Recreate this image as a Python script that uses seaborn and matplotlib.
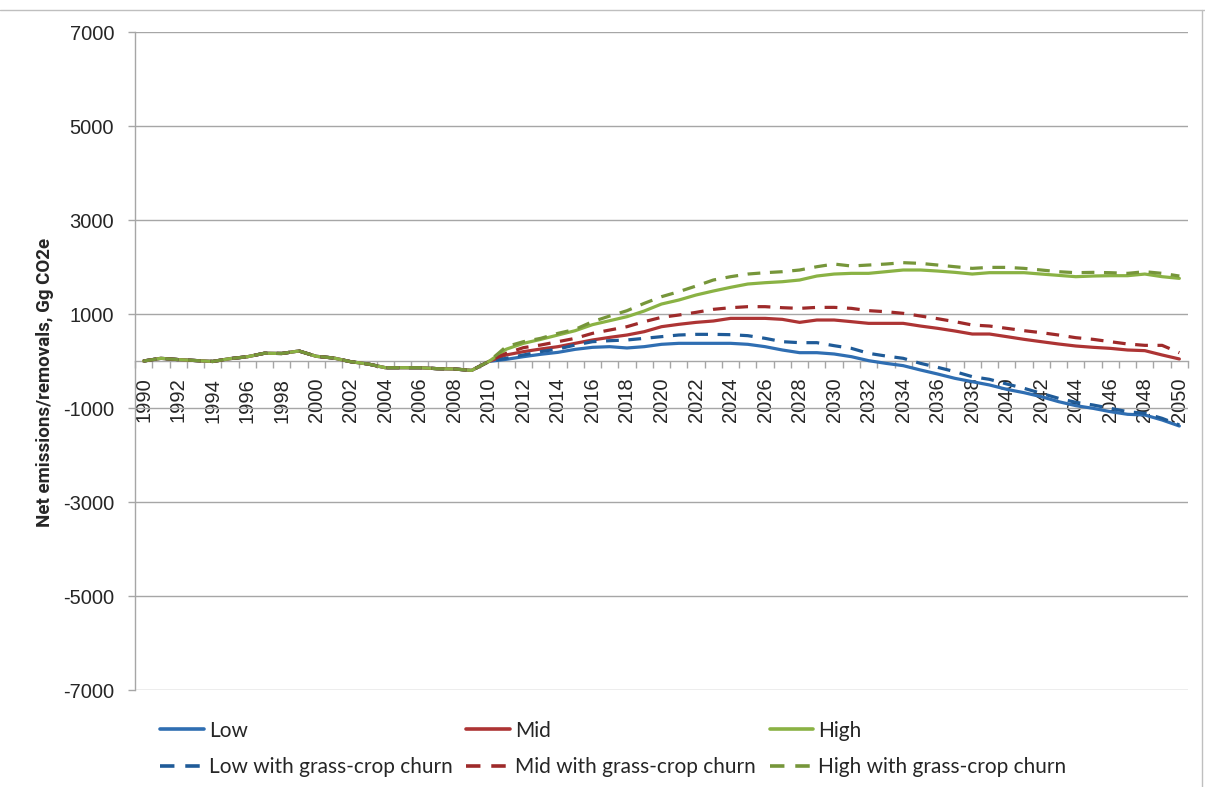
# Net emissions/removals projections, recreated with seaborn.

import numpy as np
import pandas as pd
import matplotlib
matplotlib.use("Agg")
import matplotlib.pyplot as plt
import seaborn as sns
from matplotlib.ticker import FixedLocator, MultipleLocator
from matplotlib.lines import Line2D

# Data (Gg CO2e)
years = list(range(1990, 2051))

# 1990-2010 is shared by all scenarios
history = [0, 57, 30, 10, -10, 50, 90, 165, 160, 213, 100, 64, -15, -64,
           -142, -142, -142, -163, -170, -200, -10]

# 2011-2050
low_proj = [35, 92, 142, 184, 248, 291, 305, 277, 305, 355, 376, 376, 376, 376,
            355, 305, 234, 177, 177, 149, 92, 7, -50, -99, -191, -277, -369, -440,
            -510, -603, -674, -759, -865, -950, -1007, -1078, -1134, -1149, -1255, -1383]
mid_proj = [128, 199, 255, 305, 376, 447, 503, 553, 624, 730, 780, 822, 851, 907,
            907, 907, 886, 822, 872, 872, 837, 801, 801, 801, 744, 695, 638, 574,
            574, 518, 461, 411, 362, 319, 291, 269, 234, 220, 128, 43]
high_proj = [250, 376, 460, 553, 645, 773, 858, 943, 1064, 1212, 1297, 1404, 1489, 1567,
             1638, 1666, 1687, 1723, 1808, 1850, 1865, 1865, 1900, 1936, 1936, 1914, 1886, 1850,
             1879, 1879, 1879, 1850, 1822, 1794, 1808, 1815, 1815, 1850, 1794, 1758]
low_churn_proj = [57, 128, 199, 255, 340, 411, 432, 447, 482, 518, 553, 567, 567, 560,
                  539, 482, 411, 390, 390, 326, 269, 163, 106, 57, -50, -135, -227, -333,
                  -390, -489, -581, -688, -794, -879, -936, -1007, -1078, -1113, -1220, -1361]
mid_churn_proj = [163, 284, 340, 411, 482, 588, 659, 730, 837, 929, 978, 1035, 1099, 1134,
                  1156, 1156, 1134, 1120, 1141, 1141, 1120, 1071, 1049, 1014, 957, 900, 837, 766,
                  744, 695, 645, 603, 553, 496, 461, 411, 362, 333, 333, 177]
high_churn_proj = [305, 411, 482, 588, 673, 837, 957, 1070, 1227, 1368, 1475, 1595, 1723, 1794,
                   1850, 1879, 1900, 1936, 2006, 2063, 2021, 2042, 2063, 2092, 2077, 2042, 2006, 1971,
                   1992, 1992, 1971, 1936, 1900, 1879, 1886, 1879, 1865, 1900, 1865, 1808]

series_names = ["Low", "Mid", "High",
                "Low with grass-crop churn", "Mid with grass-crop churn", "High with grass-crop churn"]
series_values = [low_proj, mid_proj, high_proj, low_churn_proj, mid_churn_proj, high_churn_proj]
series_colors = ["#2F6EB2", "#AD3434", "#8AB244", "#1F5B98", "#9E2A2A", "#76963A"]
series_dashed = [False, False, False, True, True, True]

y_ticks = [-7000, -5000, -3000, -1000, 1000, 3000, 5000, 7000]

# Build long-form frame
rows = []
for name, proj in zip(series_names, series_values):
    for yr, v in zip(years, history + proj):
        rows.append({"year": yr, "value": v, "series": name})
df = pd.DataFrame(rows)

# Style
sns.set_style("white")
plt.rcParams["font.family"] = ["Lato", "DejaVu Sans"]
plt.rcParams["axes.unicode_minus"] = False

fig = plt.figure(figsize=(12.05, 7.87), dpi=100)
ax = fig.add_axes([135 / 1205, 1 - 690 / 787, 1053 / 1205, 658 / 787])

grid_color = "#A6A6A6"
dash_pattern = (4, 3)

for i in range(len(series_names)):
    sub = df[df["series"] == series_names[i]]
    ls = (0, dash_pattern) if series_dashed[i] else "-"
    sns.lineplot(data=sub, x="year", y="value", color=series_colors[i],
                 linestyle=ls, linewidth=2.3, ax=ax, legend=False, zorder=3 + i)

# Axes
ax.set_xlim(1989.5, 2050.5)
ax.set_ylim(-7000, 7000)
ax.yaxis.set_major_locator(FixedLocator(y_ticks))
ax.xaxis.set_major_locator(MultipleLocator(2))
ax.xaxis.set_minor_locator(FixedLocator(np.arange(1989.5, 2051, 1)))

ax.grid(axis="y", color=grid_color, linewidth=1)
ax.grid(axis="x", visible=False)

for s in ["top", "right"]:
    ax.spines[s].set_visible(False)
ax.spines["left"].set_color(grid_color)
ax.spines["bottom"].set_color(grid_color)
ax.spines["bottom"].set_position(("data", 0))
ax.spines["left"].set_linewidth(1)
ax.spines["bottom"].set_linewidth(1)

tick_font = ["Liberation Sans", "DejaVu Sans"]
ax.tick_params(axis="y", which="major", direction="out", length=5, width=1,
               color=grid_color, pad=10, labelsize=14.5, left=True)
ax.tick_params(axis="x", which="major", length=0, pad=12, labelsize=14.5, rotation=90,
               bottom=True)
ax.tick_params(axis="x", which="minor", direction="out", length=5, width=1,
               color=grid_color, bottom=True)
for lbl in ax.get_xticklabels() + ax.get_yticklabels():
    lbl.set_family(tick_font)
for lbl in ax.get_xticklabels():
    lbl.set_verticalalignment("top")
    lbl.set_horizontalalignment("center")

ax.set_xlabel("")
ax.set_ylabel("")
fig.text(45 / 1205, 1 - 382 / 787, "Net emissions/removals, Gg CO2e", rotation=90,
         ha="center", va="center", fontsize=13.5, fontweight="bold",
         family=["Roboto", "DejaVu Sans"])

# Legend: row 1 solid, row 2 dashed
handles = []
labels = []
for col in range(3):
    for i in (col, col + 3):
        ls = (0, dash_pattern) if series_dashed[i] else "-"
        handles.append(Line2D([], [], color=series_colors[i], linestyle=ls, linewidth=2.6))
        labels.append(series_names[i])
fig.legend(handles, labels, ncol=3, loc="center left",
           bbox_to_anchor=(160 / 1205, 1 - 749 / 787), frameon=False, fontsize=15,
           handlelength=2.1, handletextpad=0.25, columnspacing=0.65, labelspacing=0.8,
           borderpad=0, borderaxespad=0)

# Chart area border
fig.add_artist(Line2D([0, 1], [1 - 10 / 787, 1 - 10 / 787], transform=fig.transFigure,
                      color="#BFBFBF", linewidth=1))
fig.add_artist(Line2D([1202 / 1205, 1202 / 1205], [0, 1 - 10 / 787], transform=fig.transFigure,
                      color="#BFBFBF", linewidth=1))

fig.savefig("out.png", dpi=100)
